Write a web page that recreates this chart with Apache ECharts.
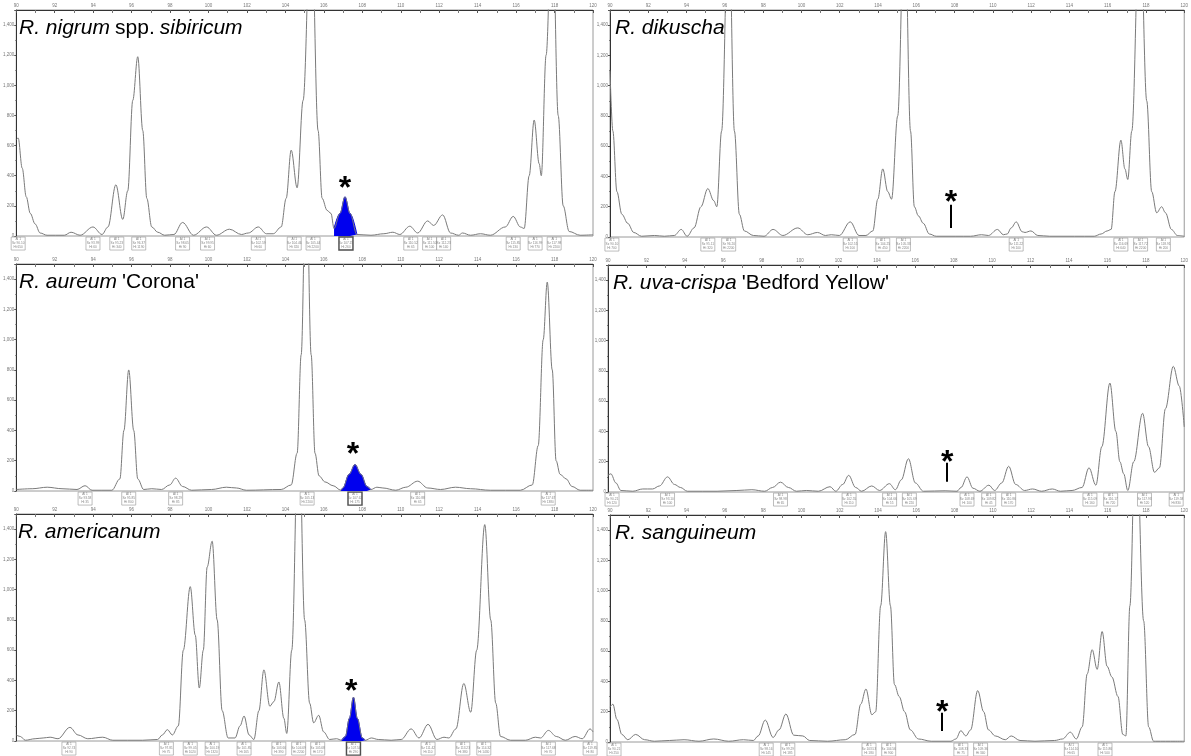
<!DOCTYPE html>
<html>
<head>
<meta charset="utf-8">
<script src="https://cdn.jsdelivr.net/npm/echarts@6/dist/echarts.min.js"></script>
<style>
  html, body { margin: 0; padding: 0; background: #fff; }
  #chart { width: 1191px; height: 756px; }
</style>
</head>
<body>
<div id="chart"></div>
<script>
// fragment size axis (bp) and peak height axis (rfu)
var sizeMin = 90, sizeMax = 120, sizeStep = 2;
var heightMin = 0, heightMax = 1500, heightStep = 200;

// R. nigrum spp. sibiricum
var nigrumTrace = [[90.00,640],[90.10,650],[90.31,450],[90.52,260],[90.73,150],[90.98,80],[91.24,20],[91.60,5],[92.50,5],[92.85,25],[93.32,5],[93.99,60],[94.46,10],[94.77,60],[95.18,340],[95.54,110],[95.80,300],[96.06,900],[96.32,1190],[96.58,700],[96.79,250],[97.05,60],[97.36,25],[97.72,5],[98.20,10],[98.65,90],[99.22,5],[99.90,60],[100.41,5],[101.09,45],[101.71,10],[102.07,20],[102.59,60],[103.01,15],[103.37,15],[103.78,60],[104.04,250],[104.30,570],[104.61,320],[104.92,900],[105.34,2200],[105.70,700],[105.91,250],[106.17,170],[106.37,150],[106.53,50],[106.84,150],[107.10,260],[107.36,150],[107.72,10],[108.45,5],[109.12,15],[109.59,25],[109.95,10],[110.47,65],[110.88,20],[111.40,100],[111.71,70],[112.18,140],[112.59,20],[113.01,5],[113.21,20],[113.63,5],[114.15,15],[114.66,5],[115.44,60],[115.85,130],[116.22,60],[116.42,50],[116.68,400],[116.94,770],[117.20,480],[117.31,400],[117.56,1200],[117.88,2200],[118.19,800],[118.45,200],[118.76,30],[119.33,5],[120.00,8]];
var nigrumPeaks = [90.10,93.99,95.23,96.37,98.65,99.95,102.59,104.46,105.44,107.15,110.52,111.50,112.23,115.85,116.99,117.98];
var nigrumBlue = [106.53, 107.72];
var nigrumStar = [107.10, 310];

// R. dikuscha
var dikuschaTrace = [[90.00,1100],[90.15,700],[90.36,300],[90.62,150],[90.93,90],[91.24,30],[91.65,5],[92.32,10],[92.84,5],[93.36,10],[93.72,50],[94.03,5],[94.39,60],[94.75,200],[95.11,320],[95.42,240],[95.58,200],[95.83,700],[96.20,2200],[96.50,700],[96.76,150],[97.02,40],[97.49,10],[98.05,5],[98.52,50],[99.03,10],[99.81,60],[100.33,15],[100.84,30],[101.25,10],[101.56,15],[101.98,10],[102.55,100],[103.01,10],[103.37,10],[103.73,40],[103.99,250],[104.25,450],[104.51,300],[104.71,250],[105.03,800],[105.39,2200],[105.70,700],[105.90,200],[106.11,140],[106.37,90],[106.68,20],[107.04,5],[108.07,5],[108.84,5],[109.41,15],[109.77,10],[110.24,50],[110.55,15],[110.75,20],[110.96,60],[111.22,100],[111.53,35],[111.68,30],[111.99,40],[112.35,10],[112.97,5],[114.26,5],[115.30,5],[115.66,20],[115.97,40],[116.18,50],[116.38,300],[116.69,640],[116.90,450],[117.05,380],[117.26,700],[117.68,2200],[118.04,900],[118.30,300],[118.56,160],[118.82,200],[119.02,160],[119.33,50],[119.64,10],[120.00,5]];
var dikuschaPeaks = [90.10,95.11,96.20,102.55,104.25,105.33,111.22,116.69,117.72,118.91];
var dikuschaStar = [107.81, 225];
var dikuschaMark = [107.81, 213, 60];

// R. aureum 'Corona'
var aureumTrace = [[90.00,10],[90.83,15],[91.61,25],[92.38,15],[93.16,10],[93.58,35],[93.94,5],[94.97,5],[95.39,80],[95.60,400],[95.85,800],[96.11,400],[96.32,80],[96.63,10],[97.05,15],[97.56,10],[97.98,40],[98.29,85],[98.65,30],[99.12,5],[100.16,10],[100.93,25],[101.45,20],[101.97,5],[103.78,10],[104.30,40],[104.61,250],[104.82,900],[105.08,2200],[105.34,900],[105.54,250],[105.75,100],[106.06,60],[106.48,35],[106.89,5],[106.99,20],[107.31,110],[107.62,175],[107.93,110],[108.24,30],[108.45,10],[108.76,25],[109.07,20],[109.74,5],[110.26,25],[110.88,65],[111.40,20],[112.07,10],[112.85,25],[113.63,15],[114.66,5],[116.22,5],[116.84,40],[117.15,300],[117.41,1000],[117.62,1380],[117.88,800],[118.08,200],[118.29,110],[118.60,80],[118.91,30],[119.33,5],[120.00,5]];
var aureumPeaks = [93.58,95.85,98.29,105.13,107.62,110.88,117.67];
var aureumBlue = [106.89, 108.45];
var aureumStar = [107.51, 235];

// R. uva-crispa 'Bedford Yellow'
var uvaTrace = [[90.00,110],[90.15,120],[90.41,60],[90.67,10],[91.29,5],[91.81,20],[92.32,20],[92.68,40],[93.10,100],[93.46,50],[93.77,30],[94.13,5],[95.68,5],[96.71,10],[97.49,15],[98.16,5],[98.57,30],[98.98,65],[99.39,30],[99.81,5],[100.33,10],[100.95,5],[101.56,35],[101.86,5],[102.22,50],[102.53,110],[102.89,30],[103.20,5],[103.73,40],[104.14,10],[104.65,55],[104.96,15],[105.27,80],[105.64,220],[106.00,60],[106.42,5],[107.55,8],[108.17,5],[108.38,30],[108.69,100],[109.00,25],[109.36,5],[109.83,45],[110.13,10],[110.50,60],[110.86,170],[111.22,50],[111.69,10],[112.10,20],[112.57,5],[113.13,20],[113.55,5],[114.16,10],[114.68,30],[115.04,160],[115.40,45],[115.71,300],[116.13,720],[116.44,400],[116.65,200],[116.85,120],[117.06,10],[117.37,200],[117.83,520],[118.14,300],[118.45,130],[118.71,160],[119.02,550],[119.43,830],[119.74,700],[120.00,430]];
var uvaPeaks = [90.21,93.10,98.98,102.55,104.66,105.69,108.69,109.82,110.86,115.09,116.17,117.93,119.58];
var uvaStar = [107.66, 190];
var uvaMark = [107.66, 193, 67];

// R. americanum
var americanumTrace = [[90.00,40],[90.21,30],[90.47,5],[90.98,15],[91.40,20],[91.76,25],[92.17,15],[92.79,90],[93.21,40],[93.72,15],[94.50,25],[95.02,5],[96.57,5],[97.35,10],[97.60,40],[97.86,75],[98.12,40],[98.43,100],[98.69,600],[99.05,1020],[99.31,700],[99.52,350],[99.73,600],[99.93,1150],[100.19,1320],[100.45,800],[100.71,200],[101.02,20],[101.38,20],[101.64,100],[101.85,165],[102.11,40],[102.36,10],[102.62,200],[102.88,470],[103.19,230],[103.40,260],[103.66,390],[103.92,150],[104.07,50],[104.33,600],[104.69,2200],[105.00,800],[105.26,250],[105.47,120],[105.73,170],[105.99,60],[106.30,10],[106.66,15],[106.92,5],[107.12,30],[107.33,150],[107.54,290],[107.74,150],[108.00,20],[108.16,5],[108.47,20],[108.83,10],[109.50,5],[110.02,10],[110.54,80],[110.95,20],[111.42,110],[111.88,10],[112.25,25],[112.50,20],[112.87,80],[113.28,380],[113.64,190],[113.95,600],[114.37,1430],[114.68,800],[114.94,250],[115.19,30],[115.71,5],[116.49,5],[117.00,25],[117.27,20],[117.68,70],[118.09,30],[118.56,5],[119.07,30],[119.44,15],[119.85,80],[120.00,60]];
var americanumPeaks = [92.74,97.81,99.05,100.19,101.85,103.66,104.69,105.68,107.54,111.42,113.23,114.32,117.68,119.85];
var americanumBlue = [106.92, 108.16];
var americanumStar = [107.43, 320];

// R. sanguineum
var sanguineumTrace = [[90.00,230],[90.15,250],[90.36,150],[90.62,50],[90.93,15],[91.34,50],[91.81,15],[92.32,5],[93.10,10],[93.87,15],[94.65,5],[95.42,20],[96.20,5],[96.97,15],[97.49,10],[97.74,40],[98.11,145],[98.52,30],[98.83,80],[99.19,185],[99.60,45],[100.07,40],[100.43,10],[101.36,5],[102.29,15],[102.80,50],[103.10,250],[103.37,350],[103.68,180],[103.88,200],[104.14,900],[104.40,1390],[104.65,900],[104.86,380],[105.11,300],[105.39,200],[105.69,80],[106.11,20],[106.78,5],[107.81,5],[108.07,20],[108.33,75],[108.59,40],[108.84,80],[109.21,340],[109.52,200],[109.77,80],[110.13,40],[110.65,15],[110.96,40],[111.42,10],[112.20,5],[113.23,10],[113.64,20],[114.05,65],[114.36,20],[114.67,100],[114.93,450],[115.19,610],[115.45,480],[115.71,730],[115.97,500],[116.22,430],[116.54,300],[116.79,50],[116.95,40],[117.16,900],[117.47,2200],[117.88,800],[118.14,100],[118.40,5],[120.00,5]];
var sanguineumPeaks = [90.21,98.16,99.29,103.53,104.56,108.33,109.36,114.10,115.86];
var sanguineumStar = [107.35, 190];
var sanguineumMark = [107.35, 193, 73];

var FONT = 'Liberation Sans, Arial, sans-serif';

var panels = [
  { name: '{i|R. nigrum} {n|spp.} {i|sibiricum}', trace: nigrumTrace, peaks: nigrumPeaks, blue: nigrumBlue, star: nigrumStar,
    grid: { left: 14, top: 10, width: 579, height: 226 } },
  { name: '{i|R. dikuscha}', trace: dikuschaTrace, peaks: dikuschaPeaks, star: dikuschaStar, mark: dikuschaMark,
    grid: { left: 610, top: 10, width: 581, height: 227 } },
  { name: "{i|R. aureum} {n|'Corona'}", trace: aureumTrace, peaks: aureumPeaks, blue: aureumBlue, star: aureumStar,
    grid: { left: 14, top: 264, width: 579, height: 227 } },
  { name: "{i|R. uva-crispa} {n|'Bedford Yellow'}", trace: uvaTrace, peaks: uvaPeaks, star: uvaStar, mark: uvaMark,
    grid: { left: 608, top: 265, width: 583, height: 227 } },
  { name: '{i|R. americanum}', trace: americanumTrace, peaks: americanumPeaks, blue: americanumBlue, star: americanumStar,
    grid: { left: 13, top: 514, width: 580, height: 227 } },
  { name: '{i|R. sanguineum}', trace: sanguineumTrace, peaks: sanguineumPeaks, star: sanguineumStar, mark: sanguineumMark,
    grid: { left: 610, top: 515, width: 581, height: 227 } }
];

function heightAt(trace, x) {
  var best = trace[0];
  for (var i = 1; i < trace.length; i++) {
    if (Math.abs(trace[i][0] - x) < Math.abs(best[0] - x)) best = trace[i];
  }
  return Math.min(best[1], 9999);
}

var grids = [], xAxes = [], yAxes = [], series = [], titles = [];

panels.forEach(function (p, k) {
  grids.push({ left: p.grid.left, top: p.grid.top, width: p.grid.width, height: p.grid.height,
    show: true, borderColor: '#9a9a9a', borderWidth: 1, containLabel: false });

  xAxes.push({
    gridIndex: k, type: 'value', position: 'top', min: sizeMin, max: sizeMax, interval: sizeStep,
    axisLine: { show: true, onZero: false, lineStyle: { color: '#333', width: 1 } },
    axisTick: { show: true, inside: true, length: 3, lineStyle: { color: '#555' } },
    minorTick: { show: true, splitNumber: 2, length: 3, lineStyle: { color: '#777' } },
    axisLabel: { fontSize: 4.5, color: '#777', margin: 2, fontFamily: FONT },
    splitLine: { show: false }
  });
  yAxes.push({
    gridIndex: k, type: 'value', min: heightMin, max: heightMax, interval: heightStep,
    axisLine: { show: true, lineStyle: { color: '#333', width: 1 } },
    axisTick: { show: true, length: 2, lineStyle: { color: '#555' } },
    minorTick: { show: true, splitNumber: 2, length: 1, lineStyle: { color: '#777' } },
    axisLabel: { fontSize: 4.5, color: '#777', margin: 2, showMaxLabel: false, fontFamily: FONT },
    splitLine: { show: false }
  });

  var main = {
    type: 'line', xAxisIndex: k, yAxisIndex: k, data: p.trace,
    showSymbol: false, smooth: 0.35, smoothMonotone: 'x', animation: false,
    lineStyle: { color: '#7a7a7a', width: 1 }, z: 3
  };
  main.markPoint = {
    symbol: 'rect', symbolSize: 1, itemStyle: { color: 'rgba(0,0,0,0)' }, animation: false,
    label: { show: true, position: 'inside', formatter: '*', fontSize: 32, fontWeight: 'bold', color: '#000', fontFamily: FONT },
    data: [{ coord: p.star }]
  };
  if (p.mark) {
    main.markLine = {
      symbol: ['none', 'none'], silent: true, animation: false,
      lineStyle: { color: '#000', width: 2, type: 'solid' }, label: { show: false },
      data: [[{ coord: [p.mark[0], p.mark[1]] }, { coord: [p.mark[0], p.mark[2]] }]]
    };
  }
  series.push(main);

  if (p.blue) {
    series.push({
      type: 'line', xAxisIndex: k, yAxisIndex: k, showSymbol: false, smooth: 0.35, smoothMonotone: 'x', animation: false,
      data: p.trace.filter(function (d) { return d[0] >= p.blue[0] && d[0] <= p.blue[1]; }),
      lineStyle: { color: '#0000ee', width: 1 }, areaStyle: { color: '#0000ee', opacity: 1 }, z: 2
    });
  }

  // peak annotation boxes below the baseline
  series.push({
    type: 'scatter', xAxisIndex: k, yAxisIndex: k, clip: false, animation: false, silent: true,
    symbol: 'rect', symbolSize: [14, 13],
    data: p.peaks.map(function (x) {
      var hl = p.blue && x >= p.blue[0] && x <= p.blue[1];
      return { value: [x, -50], itemStyle: { borderColor: hl ? '#222' : '#999', borderWidth: hl ? 1.4 : 0.8 } };
    }),
    itemStyle: { color: '#fff' },
    label: {
      show: true, position: 'inside', color: '#666', fontSize: 3.2, lineHeight: 4, fontFamily: FONT,
      formatter: function (d) {
        return 'Al 1\nSz ' + d.value[0].toFixed(2) + '\nHt ' + heightAt(p.trace, d.value[0]);
      }
    },
    z: 4
  });

  titles.push({
    text: p.name, left: p.grid.left + 5, top: p.grid.top + 8, padding: 0,
    textStyle: {
      fontWeight: 'normal',
      rich: {
        i: { fontStyle: 'italic', fontWeight: 'normal', fontSize: 21, color: '#000', fontFamily: FONT },
        n: { fontStyle: 'normal', fontWeight: 'normal', fontSize: 21, color: '#000', fontFamily: FONT }
      }
    }
  });
});

var chart = echarts.init(document.getElementById('chart'));
chart.setOption({
  animation: false,
  backgroundColor: '#fff',
  title: titles,
  grid: grids,
  xAxis: xAxes,
  yAxis: yAxes,
  series: series
});
</script>
</body>
</html>
